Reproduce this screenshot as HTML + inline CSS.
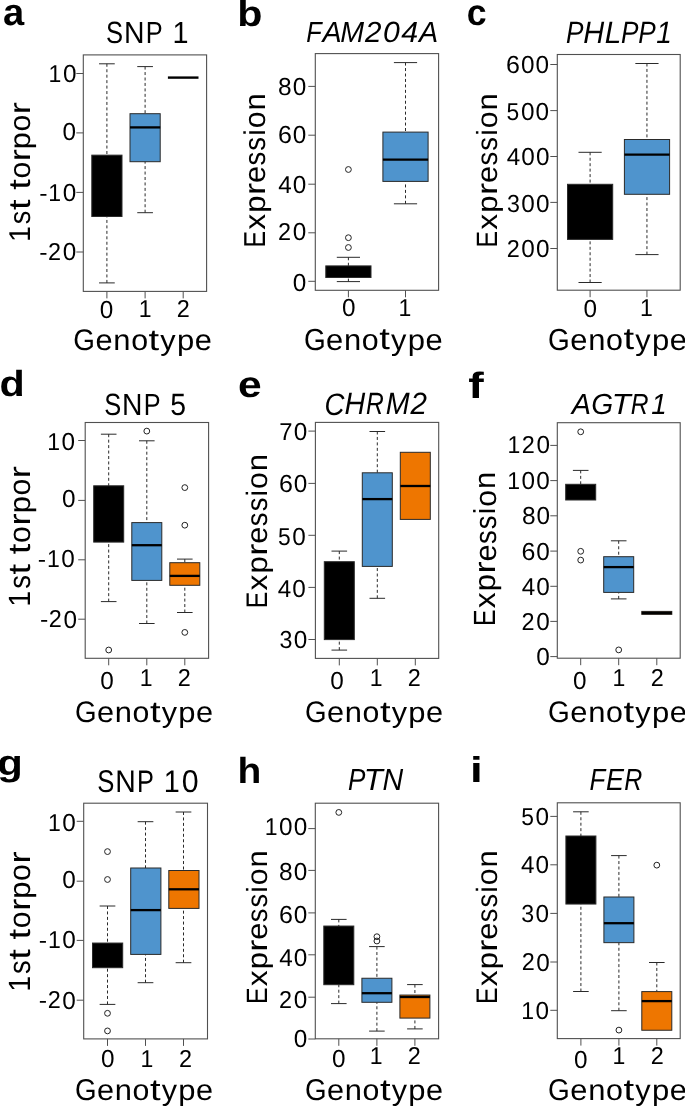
<!DOCTYPE html>
<html><head><meta charset="utf-8"><title>Genotype box plots</title><style>
html,body{margin:0;padding:0;background:#fff;overflow:hidden;}
svg{display:block;will-change:transform;}
text{font-family:"Liberation Sans",sans-serif;font-size:100px;fill:#000;}
</style></head><body>
<svg width="685" height="1107" viewBox="0 0 685 1107" text-rendering="geometricPrecision">
<rect width="685" height="1107" fill="#fff"/>
<line x1="76.30" y1="73.5" x2="83.3" y2="73.5" stroke="#505050" stroke-width="1"/>
<g><text transform="matrix(0.2308 0 0 0.2439 48.51 82.22)">1</text><text transform="matrix(0.2428 0 0 0.2458 62.89 82.30)">0</text></g>
<line x1="76.30" y1="132.9" x2="83.3" y2="132.9" stroke="#505050" stroke-width="1"/>
<g><text transform="matrix(0.2428 0 0 0.2458 62.44 139.70)">0</text></g>
<line x1="76.30" y1="192.4" x2="83.3" y2="192.4" stroke="#505050" stroke-width="1"/>
<g><text transform="matrix(0.2494 0 0 0.2300 39.26 200.62)">-</text><text transform="matrix(0.2308 0 0 0.2439 48.36 200.82)">1</text><text transform="matrix(0.2428 0 0 0.2458 62.74 200.90)">0</text></g>
<line x1="76.30" y1="252.0" x2="83.3" y2="252.0" stroke="#505050" stroke-width="1"/>
<g><text transform="matrix(0.2494 0 0 0.2300 39.26 259.87)">-</text><text transform="matrix(0.2340 0 0 0.2447 48.07 260.07)">2</text><text transform="matrix(0.2428 0 0 0.2458 62.74 260.15)">0</text></g>
<line x1="106.9" y1="291.4" x2="106.9" y2="298.40" stroke="#505050" stroke-width="1"/>
<line x1="145.1" y1="291.4" x2="145.1" y2="298.40" stroke="#505050" stroke-width="1"/>
<line x1="183.2" y1="291.4" x2="183.2" y2="298.40" stroke="#505050" stroke-width="1"/>
<g><text transform="matrix(0.2428 0 0 0.2458 99.73 317.76)">0</text></g>
<g><text transform="matrix(0.2308 0 0 0.2439 138.83 316.90)">1</text></g>
<g><text transform="matrix(0.2340 0 0 0.2447 176.81 316.90)">2</text></g>
<line x1="106.9" y1="63.80" x2="106.9" y2="155.15" stroke="#2a2a2a" stroke-width="1" stroke-dasharray="3,2.45"/>
<line x1="99.05" y1="63.80" x2="114.75" y2="63.80" stroke="#2a2a2a" stroke-width="1"/>
<line x1="106.9" y1="282.90" x2="106.9" y2="216.50" stroke="#2a2a2a" stroke-width="1" stroke-dasharray="3,2.45"/>
<line x1="99.05" y1="282.90" x2="114.75" y2="282.90" stroke="#2a2a2a" stroke-width="1"/>
<rect x="91.80" y="155.15" width="30.20" height="61.35" fill="#000" stroke="#2a2a2a" stroke-width="1"/>
<line x1="145.1" y1="66.60" x2="145.1" y2="113.70" stroke="#2a2a2a" stroke-width="1" stroke-dasharray="3,2.45"/>
<line x1="137.25" y1="66.60" x2="152.95" y2="66.60" stroke="#2a2a2a" stroke-width="1"/>
<line x1="145.1" y1="212.70" x2="145.1" y2="161.70" stroke="#2a2a2a" stroke-width="1" stroke-dasharray="3,2.45"/>
<line x1="137.25" y1="212.70" x2="152.95" y2="212.70" stroke="#2a2a2a" stroke-width="1"/>
<rect x="130.00" y="113.70" width="30.20" height="48.00" fill="#4F94CD" stroke="#2a2a2a" stroke-width="1"/>
<line x1="130.00" y1="127.40" x2="160.20" y2="127.40" stroke="#000" stroke-width="2.3"/>
<line x1="167.90" y1="77.6" x2="198.50" y2="77.6" stroke="#000" stroke-width="2.4"/>
<rect x="83.3" y="54.9" width="123.30" height="236.50" fill="none" stroke="#505050" stroke-width="1.1"/>
<g><text transform="matrix(0.3812 0 0 0.3781 2.96 25.12)" font-weight="bold">a</text></g>
<g><text transform="matrix(0.2563 0 0 0.3067 106.05 43.09)">S</text><text transform="matrix(0.2844 0 0 0.3044 124.01 43.00)">N</text><text transform="matrix(0.2541 0 0 0.3044 145.74 43.00)">P</text><text transform="matrix(0.2882 0 0 0.3044 172.47 43.00)">1</text></g>
<g transform="rotate(-90)"><text transform="matrix(0.2851 0 0 0.3010 -242.04 29.80)">1</text><text transform="matrix(0.2714 0 0 0.2976 -224.16 29.90)">s</text><text transform="matrix(0.3799 0 0 0.3043 -209.95 29.57)">t</text><text transform="matrix(0.3799 0 0 0.3043 -189.79 29.57)">t</text><text transform="matrix(0.3018 0 0 0.2976 -178.57 29.90)">o</text><text transform="matrix(0.3636 0 0 0.2958 -161.34 29.80)">r</text><text transform="matrix(0.3087 0 0 0.2926 -149.21 29.63)">p</text><text transform="matrix(0.3018 0 0 0.2976 -131.48 29.90)">o</text><text transform="matrix(0.3636 0 0 0.2958 -114.24 29.80)">r</text></g>
<g><text transform="matrix(0.2787 0 0 0.2981 73.31 350.29)">G</text><text transform="matrix(0.3080 0 0 0.2924 95.48 350.30)">e</text><text transform="matrix(0.3095 0 0 0.2906 113.30 350.20)">n</text><text transform="matrix(0.3033 0 0 0.2924 131.16 350.30)">o</text><text transform="matrix(0.3818 0 0 0.2990 148.54 349.97)">t</text><text transform="matrix(0.3068 0 0 0.2865 160.32 350.05)">y</text><text transform="matrix(0.3102 0 0 0.2876 177.02 350.03)">p</text><text transform="matrix(0.3080 0 0 0.2924 194.82 350.30)">e</text></g>
<line x1="308.30" y1="86.4" x2="315.3" y2="86.4" stroke="#505050" stroke-width="1"/>
<g><text transform="matrix(0.2447 0 0 0.2458 278.08 95.30)">8</text><text transform="matrix(0.2428 0 0 0.2458 292.74 95.30)">0</text></g>
<line x1="308.30" y1="135.2" x2="315.3" y2="135.2" stroke="#505050" stroke-width="1"/>
<g><text transform="matrix(0.2501 0 0 0.2458 277.92 142.70)">6</text><text transform="matrix(0.2428 0 0 0.2458 292.74 142.70)">0</text></g>
<line x1="308.30" y1="184.2" x2="315.3" y2="184.2" stroke="#505050" stroke-width="1"/>
<g><text transform="matrix(0.2418 0 0 0.2439 278.14 192.82)">4</text><text transform="matrix(0.2428 0 0 0.2458 292.74 192.90)">0</text></g>
<line x1="308.30" y1="232.8" x2="315.3" y2="232.8" stroke="#505050" stroke-width="1"/>
<g><text transform="matrix(0.2340 0 0 0.2447 278.07 240.12)">2</text><text transform="matrix(0.2428 0 0 0.2458 292.74 240.20)">0</text></g>
<line x1="308.30" y1="281.3" x2="315.3" y2="281.3" stroke="#505050" stroke-width="1"/>
<g><text transform="matrix(0.2428 0 0 0.2458 292.74 291.20)">0</text></g>
<line x1="348.4" y1="290.3" x2="348.4" y2="297.30" stroke="#505050" stroke-width="1"/>
<line x1="405.5" y1="290.3" x2="405.5" y2="297.30" stroke="#505050" stroke-width="1"/>
<g><text transform="matrix(0.2428 0 0 0.2458 342.08 316.36)">0</text></g>
<g><text transform="matrix(0.2308 0 0 0.2439 398.48 316.10)">1</text></g>
<line x1="348.4" y1="257.30" x2="348.4" y2="265.90" stroke="#2a2a2a" stroke-width="1" stroke-dasharray="3,2.45"/>
<line x1="336.80" y1="257.30" x2="360.00" y2="257.30" stroke="#2a2a2a" stroke-width="1"/>
<line x1="348.4" y1="281.60" x2="348.4" y2="277.50" stroke="#2a2a2a" stroke-width="1" stroke-dasharray="3,2.45"/>
<line x1="336.80" y1="281.60" x2="360.00" y2="281.60" stroke="#2a2a2a" stroke-width="1"/>
<rect x="325.80" y="265.90" width="45.20" height="11.60" fill="#000" stroke="#2a2a2a" stroke-width="1"/>
<circle cx="348.4" cy="169.50" r="2.9" fill="none" stroke="#222" stroke-width="1"/>
<circle cx="348.4" cy="237.70" r="2.9" fill="none" stroke="#222" stroke-width="1"/>
<circle cx="348.4" cy="247.50" r="2.9" fill="none" stroke="#222" stroke-width="1"/>
<line x1="405.5" y1="62.60" x2="405.5" y2="132.10" stroke="#2a2a2a" stroke-width="1" stroke-dasharray="3,2.45"/>
<line x1="393.90" y1="62.60" x2="417.10" y2="62.60" stroke="#2a2a2a" stroke-width="1"/>
<line x1="405.5" y1="203.80" x2="405.5" y2="181.40" stroke="#2a2a2a" stroke-width="1" stroke-dasharray="3,2.45"/>
<line x1="393.90" y1="203.80" x2="417.10" y2="203.80" stroke="#2a2a2a" stroke-width="1"/>
<rect x="382.90" y="132.10" width="45.20" height="49.30" fill="#4F94CD" stroke="#2a2a2a" stroke-width="1"/>
<line x1="382.90" y1="159.70" x2="428.10" y2="159.70" stroke="#000" stroke-width="2.3"/>
<rect x="315.3" y="53.6" width="123.30" height="236.70" fill="none" stroke="#505050" stroke-width="1.1"/>
<g><text transform="matrix(0.4119 0 0 0.3619 237.32 26.24)" font-weight="bold">b</text></g>
<g><text transform="matrix(0.2534 0 0 0.2903 306.24 41.72)" font-style="italic">F</text><text transform="matrix(0.2874 0 0 0.2903 322.43 41.72)" font-style="italic">A</text><text transform="matrix(0.2863 0 0 0.2903 340.24 41.72)" font-style="italic">M</text><text transform="matrix(0.2956 0 0 0.2913 365.09 41.72)" font-style="italic">2</text><text transform="matrix(0.3014 0 0 0.2926 383.04 41.81)" font-style="italic">0</text><text transform="matrix(0.3046 0 0 0.2903 401.25 41.72)" font-style="italic">4</text><text transform="matrix(0.2874 0 0 0.2903 418.90 41.72)" font-style="italic">A</text></g>
<g transform="rotate(-90)"><text transform="matrix(0.2479 0 0 0.3029 -247.55 265.16)">E</text><text transform="matrix(0.3193 0 0 0.2962 -229.79 265.16)">x</text><text transform="matrix(0.3110 0 0 0.2945 -212.71 264.99)">p</text><text transform="matrix(0.3663 0 0 0.2976 -194.99 265.16)">r</text><text transform="matrix(0.3087 0 0 0.2995 -183.10 265.26)">e</text><text transform="matrix(0.2734 0 0 0.2995 -165.59 265.26)">s</text><text transform="matrix(0.2734 0 0 0.2995 -150.68 265.26)">s</text><text transform="matrix(0.2943 0 0 0.2994 -135.86 265.16)">i</text><text transform="matrix(0.3040 0 0 0.2995 -128.34 265.26)">o</text><text transform="matrix(0.3102 0 0 0.2976 -110.60 265.16)">n</text></g>
<g><text transform="matrix(0.2791 0 0 0.3048 303.90 349.76)">G</text><text transform="matrix(0.3084 0 0 0.2991 326.12 349.77)">e</text><text transform="matrix(0.3099 0 0 0.2972 343.95 349.67)">n</text><text transform="matrix(0.3037 0 0 0.2991 361.84 349.77)">o</text><text transform="matrix(0.3823 0 0 0.3057 379.25 349.44)">t</text><text transform="matrix(0.3073 0 0 0.2930 391.05 349.52)">y</text><text transform="matrix(0.3107 0 0 0.2941 407.77 349.50)">p</text><text transform="matrix(0.3084 0 0 0.2991 425.59 349.77)">e</text></g>
<line x1="550.30" y1="64.5" x2="557.3" y2="64.5" stroke="#505050" stroke-width="1"/>
<g><text transform="matrix(0.2501 0 0 0.2458 506.08 72.75)">6</text><text transform="matrix(0.2428 0 0 0.2458 520.90 72.75)">0</text><text transform="matrix(0.2428 0 0 0.2458 535.54 72.75)">0</text></g>
<line x1="550.30" y1="110.6" x2="557.3" y2="110.6" stroke="#505050" stroke-width="1"/>
<g><text transform="matrix(0.2285 0 0 0.2450 506.58 119.70)">5</text><text transform="matrix(0.2428 0 0 0.2458 520.90 119.70)">0</text><text transform="matrix(0.2428 0 0 0.2458 535.54 119.70)">0</text></g>
<line x1="550.30" y1="156.5" x2="557.3" y2="156.5" stroke="#505050" stroke-width="1"/>
<g><text transform="matrix(0.2418 0 0 0.2439 506.71 165.12)">4</text><text transform="matrix(0.2428 0 0 0.2458 521.30 165.20)">0</text><text transform="matrix(0.2428 0 0 0.2458 535.94 165.20)">0</text></g>
<line x1="550.30" y1="202.4" x2="557.3" y2="202.4" stroke="#505050" stroke-width="1"/>
<g><text transform="matrix(0.2324 0 0 0.2458 507.00 212.10)">3</text><text transform="matrix(0.2428 0 0 0.2458 521.30 212.10)">0</text><text transform="matrix(0.2428 0 0 0.2458 535.94 212.10)">0</text></g>
<line x1="550.30" y1="248.5" x2="557.3" y2="248.5" stroke="#505050" stroke-width="1"/>
<g><text transform="matrix(0.2340 0 0 0.2447 506.63 256.72)">2</text><text transform="matrix(0.2428 0 0 0.2458 521.30 256.80)">0</text><text transform="matrix(0.2428 0 0 0.2458 535.94 256.80)">0</text></g>
<line x1="590.1" y1="290.2" x2="590.1" y2="297.20" stroke="#505050" stroke-width="1"/>
<line x1="646.95" y1="290.2" x2="646.95" y2="297.20" stroke="#505050" stroke-width="1"/>
<g><text transform="matrix(0.2428 0 0 0.2458 583.48 316.96)">0</text></g>
<g><text transform="matrix(0.2308 0 0 0.2439 640.03 316.10)">1</text></g>
<line x1="590.1" y1="152.30" x2="590.1" y2="184.30" stroke="#2a2a2a" stroke-width="1" stroke-dasharray="3,2.45"/>
<line x1="578.50" y1="152.30" x2="601.70" y2="152.30" stroke="#2a2a2a" stroke-width="1"/>
<line x1="590.1" y1="282.50" x2="590.1" y2="239.40" stroke="#2a2a2a" stroke-width="1" stroke-dasharray="3,2.45"/>
<line x1="578.50" y1="282.50" x2="601.70" y2="282.50" stroke="#2a2a2a" stroke-width="1"/>
<rect x="567.50" y="184.30" width="45.20" height="55.10" fill="#000" stroke="#2a2a2a" stroke-width="1"/>
<line x1="646.95" y1="63.50" x2="646.95" y2="139.50" stroke="#2a2a2a" stroke-width="1" stroke-dasharray="3,2.45"/>
<line x1="635.35" y1="63.50" x2="658.55" y2="63.50" stroke="#2a2a2a" stroke-width="1"/>
<line x1="646.95" y1="254.60" x2="646.95" y2="194.30" stroke="#2a2a2a" stroke-width="1" stroke-dasharray="3,2.45"/>
<line x1="635.35" y1="254.60" x2="658.55" y2="254.60" stroke="#2a2a2a" stroke-width="1"/>
<rect x="624.40" y="139.50" width="45.20" height="54.80" fill="#4F94CD" stroke="#2a2a2a" stroke-width="1"/>
<line x1="624.40" y1="154.70" x2="669.60" y2="154.70" stroke="#000" stroke-width="2.3"/>
<rect x="557.3" y="54.5" width="122.90" height="235.70" fill="none" stroke="#505050" stroke-width="1.1"/>
<g><text transform="matrix(0.3569 0 0 0.3671 466.87 25.13)" font-weight="bold">c</text></g>
<g><text transform="matrix(0.2619 0 0 0.3098 565.91 42.70)" font-style="italic">P</text><text transform="matrix(0.2897 0 0 0.3098 583.17 42.70)" font-style="italic">H</text><text transform="matrix(0.2969 0 0 0.3098 604.76 42.70)" font-style="italic">L</text><text transform="matrix(0.2619 0 0 0.3098 620.88 42.70)" font-style="italic">P</text><text transform="matrix(0.2619 0 0 0.3098 638.21 42.70)" font-style="italic">P</text><text transform="matrix(0.2801 0 0 0.3098 656.27 42.70)" font-style="italic">1</text></g>
<g transform="rotate(-90)"><text transform="matrix(0.2479 0 0 0.2941 -247.55 496.83)">E</text><text transform="matrix(0.3193 0 0 0.2876 -229.79 496.83)">x</text><text transform="matrix(0.3110 0 0 0.2859 -212.71 496.67)">p</text><text transform="matrix(0.3663 0 0 0.2890 -194.99 496.83)">r</text><text transform="matrix(0.3087 0 0 0.2908 -183.10 496.93)">e</text><text transform="matrix(0.2734 0 0 0.2908 -165.59 496.93)">s</text><text transform="matrix(0.2734 0 0 0.2908 -150.68 496.93)">s</text><text transform="matrix(0.2943 0 0 0.2908 -135.86 496.83)">i</text><text transform="matrix(0.3040 0 0 0.2908 -128.34 496.93)">o</text><text transform="matrix(0.3102 0 0 0.2890 -110.60 496.83)">n</text></g>
<g><text transform="matrix(0.2791 0 0 0.3048 548.10 349.76)">G</text><text transform="matrix(0.3084 0 0 0.2991 570.32 349.77)">e</text><text transform="matrix(0.3099 0 0 0.2972 588.15 349.67)">n</text><text transform="matrix(0.3037 0 0 0.2991 606.04 349.77)">o</text><text transform="matrix(0.3823 0 0 0.3057 623.45 349.44)">t</text><text transform="matrix(0.3073 0 0 0.2930 635.25 349.52)">y</text><text transform="matrix(0.3107 0 0 0.2941 651.97 349.50)">p</text><text transform="matrix(0.3084 0 0 0.2991 669.79 349.77)">e</text></g>
<line x1="78.20" y1="440.5" x2="85.2" y2="440.5" stroke="#505050" stroke-width="1"/>
<g><text transform="matrix(0.2308 0 0 0.2439 47.16 449.52)">1</text><text transform="matrix(0.2428 0 0 0.2458 61.54 449.60)">0</text></g>
<line x1="78.20" y1="500.4" x2="85.2" y2="500.4" stroke="#505050" stroke-width="1"/>
<g><text transform="matrix(0.2428 0 0 0.2458 61.89 507.30)">0</text></g>
<line x1="78.20" y1="559.8" x2="85.2" y2="559.8" stroke="#505050" stroke-width="1"/>
<g><text transform="matrix(0.2494 0 0 0.2300 37.86 566.61)">-</text><text transform="matrix(0.2308 0 0 0.2439 46.96 566.82)">1</text><text transform="matrix(0.2428 0 0 0.2458 61.34 566.90)">0</text></g>
<line x1="78.20" y1="619.2" x2="85.2" y2="619.2" stroke="#505050" stroke-width="1"/>
<g><text transform="matrix(0.2494 0 0 0.2300 40.06 627.26)">-</text><text transform="matrix(0.2340 0 0 0.2447 48.87 627.47)">2</text><text transform="matrix(0.2428 0 0 0.2458 63.54 627.55)">0</text></g>
<line x1="108.7" y1="658.3" x2="108.7" y2="665.30" stroke="#505050" stroke-width="1"/>
<line x1="146.8" y1="658.3" x2="146.8" y2="665.30" stroke="#505050" stroke-width="1"/>
<line x1="184.8" y1="658.3" x2="184.8" y2="665.30" stroke="#505050" stroke-width="1"/>
<g><text transform="matrix(0.2428 0 0 0.2458 100.18 688.76)">0</text></g>
<g><text transform="matrix(0.2308 0 0 0.2439 139.63 686.10)">1</text></g>
<g><text transform="matrix(0.2340 0 0 0.2447 177.76 686.10)">2</text></g>
<line x1="108.7" y1="434.20" x2="108.7" y2="485.80" stroke="#2a2a2a" stroke-width="1" stroke-dasharray="3,2.45"/>
<line x1="100.90" y1="434.20" x2="116.50" y2="434.20" stroke="#2a2a2a" stroke-width="1"/>
<line x1="108.7" y1="601.60" x2="108.7" y2="542.10" stroke="#2a2a2a" stroke-width="1" stroke-dasharray="3,2.45"/>
<line x1="100.90" y1="601.60" x2="116.50" y2="601.60" stroke="#2a2a2a" stroke-width="1"/>
<rect x="93.70" y="485.80" width="30.00" height="56.30" fill="#000" stroke="#2a2a2a" stroke-width="1"/>
<circle cx="108.7" cy="650.00" r="2.9" fill="none" stroke="#222" stroke-width="1"/>
<line x1="146.8" y1="440.80" x2="146.8" y2="522.60" stroke="#2a2a2a" stroke-width="1" stroke-dasharray="3,2.45"/>
<line x1="139.00" y1="440.80" x2="154.60" y2="440.80" stroke="#2a2a2a" stroke-width="1"/>
<line x1="146.8" y1="623.50" x2="146.8" y2="580.40" stroke="#2a2a2a" stroke-width="1" stroke-dasharray="3,2.45"/>
<line x1="139.00" y1="623.50" x2="154.60" y2="623.50" stroke="#2a2a2a" stroke-width="1"/>
<rect x="131.80" y="522.60" width="30.00" height="57.80" fill="#4F94CD" stroke="#2a2a2a" stroke-width="1"/>
<line x1="131.80" y1="545.20" x2="161.80" y2="545.20" stroke="#000" stroke-width="2.3"/>
<circle cx="146.8" cy="431.10" r="2.9" fill="none" stroke="#222" stroke-width="1"/>
<line x1="184.8" y1="559.10" x2="184.8" y2="562.70" stroke="#2a2a2a" stroke-width="1" stroke-dasharray="3,2.45"/>
<line x1="177.00" y1="559.10" x2="192.60" y2="559.10" stroke="#2a2a2a" stroke-width="1"/>
<line x1="184.8" y1="612.50" x2="184.8" y2="585.30" stroke="#2a2a2a" stroke-width="1" stroke-dasharray="3,2.45"/>
<line x1="177.00" y1="612.50" x2="192.60" y2="612.50" stroke="#2a2a2a" stroke-width="1"/>
<rect x="169.80" y="562.70" width="30.00" height="22.60" fill="#EE7600" stroke="#2a2a2a" stroke-width="1"/>
<line x1="169.80" y1="575.90" x2="199.80" y2="575.90" stroke="#000" stroke-width="2.3"/>
<circle cx="184.8" cy="487.60" r="2.9" fill="none" stroke="#222" stroke-width="1"/>
<circle cx="184.8" cy="525.20" r="2.9" fill="none" stroke="#222" stroke-width="1"/>
<circle cx="184.8" cy="632.40" r="2.9" fill="none" stroke="#222" stroke-width="1"/>
<rect x="85.2" y="422.5" width="123.40" height="235.80" fill="none" stroke="#505050" stroke-width="1.1"/>
<g><text transform="matrix(0.4129 0 0 0.3633 -0.60 396.44)" font-weight="bold">d</text></g>
<g><text transform="matrix(0.2548 0 0 0.3081 104.15 414.99)">S</text><text transform="matrix(0.2828 0 0 0.3058 122.01 414.90)">N</text><text transform="matrix(0.2527 0 0 0.3058 143.63 414.90)">P</text><text transform="matrix(0.2838 0 0 0.3072 170.28 414.99)">5</text></g>
<g transform="rotate(-90)"><text transform="matrix(0.2871 0 0 0.3078 -606.85 30.06)">1</text><text transform="matrix(0.2734 0 0 0.3043 -588.85 30.16)">s</text><text transform="matrix(0.3826 0 0 0.3111 -574.54 29.83)">t</text><text transform="matrix(0.3826 0 0 0.3111 -554.22 29.83)">t</text><text transform="matrix(0.3040 0 0 0.3043 -542.92 30.16)">o</text><text transform="matrix(0.3663 0 0 0.3024 -525.56 30.06)">r</text><text transform="matrix(0.3109 0 0 0.2993 -513.35 29.89)">p</text><text transform="matrix(0.3040 0 0 0.3043 -495.48 30.16)">o</text><text transform="matrix(0.3663 0 0 0.3024 -478.13 30.06)">r</text></g>
<g><text transform="matrix(0.2778 0 0 0.2969 74.96 722.21)">G</text><text transform="matrix(0.3069 0 0 0.2913 97.07 722.22)">e</text><text transform="matrix(0.3084 0 0 0.2895 114.82 722.12)">n</text><text transform="matrix(0.3023 0 0 0.2913 132.62 722.22)">o</text><text transform="matrix(0.3805 0 0 0.2978 149.95 721.90)">t</text><text transform="matrix(0.3058 0 0 0.2855 161.69 721.98)">y</text><text transform="matrix(0.3092 0 0 0.2865 178.33 721.96)">p</text><text transform="matrix(0.3069 0 0 0.2913 196.07 722.22)">e</text></g>
<line x1="308.40" y1="431.1" x2="315.4" y2="431.1" stroke="#505050" stroke-width="1"/>
<g><text transform="matrix(0.2384 0 0 0.2439 279.19 440.17)">7</text><text transform="matrix(0.2428 0 0 0.2458 293.74 440.25)">0</text></g>
<line x1="308.40" y1="483.4" x2="315.4" y2="483.4" stroke="#505050" stroke-width="1"/>
<g><text transform="matrix(0.2501 0 0 0.2458 278.92 491.75)">6</text><text transform="matrix(0.2428 0 0 0.2458 293.74 491.75)">0</text></g>
<line x1="308.40" y1="535.3" x2="315.4" y2="535.3" stroke="#505050" stroke-width="1"/>
<g><text transform="matrix(0.2285 0 0 0.2450 278.01 544.50)">5</text><text transform="matrix(0.2428 0 0 0.2458 292.34 544.50)">0</text></g>
<line x1="308.40" y1="587.4" x2="315.4" y2="587.4" stroke="#505050" stroke-width="1"/>
<g><text transform="matrix(0.2418 0 0 0.2439 277.74 597.02)">4</text><text transform="matrix(0.2428 0 0 0.2458 292.34 597.10)">0</text></g>
<line x1="308.40" y1="639.5" x2="315.4" y2="639.5" stroke="#505050" stroke-width="1"/>
<g><text transform="matrix(0.2324 0 0 0.2458 279.43 648.15)">3</text><text transform="matrix(0.2428 0 0 0.2458 293.74 648.15)">0</text></g>
<line x1="339.3" y1="658.4" x2="339.3" y2="665.40" stroke="#505050" stroke-width="1"/>
<line x1="377.3" y1="658.4" x2="377.3" y2="665.40" stroke="#505050" stroke-width="1"/>
<line x1="415.3" y1="658.4" x2="415.3" y2="665.40" stroke="#505050" stroke-width="1"/>
<g><text transform="matrix(0.2428 0 0 0.2458 330.18 688.76)">0</text></g>
<g><text transform="matrix(0.2308 0 0 0.2439 369.78 686.10)">1</text></g>
<g><text transform="matrix(0.2340 0 0 0.2447 407.76 686.10)">2</text></g>
<line x1="339.3" y1="551.10" x2="339.3" y2="561.70" stroke="#2a2a2a" stroke-width="1" stroke-dasharray="3,2.45"/>
<line x1="331.50" y1="551.10" x2="347.10" y2="551.10" stroke="#2a2a2a" stroke-width="1"/>
<line x1="339.3" y1="650.10" x2="339.3" y2="639.60" stroke="#2a2a2a" stroke-width="1" stroke-dasharray="3,2.45"/>
<line x1="331.50" y1="650.10" x2="347.10" y2="650.10" stroke="#2a2a2a" stroke-width="1"/>
<rect x="324.30" y="561.70" width="30.00" height="77.90" fill="#000" stroke="#2a2a2a" stroke-width="1"/>
<line x1="377.3" y1="431.50" x2="377.3" y2="472.80" stroke="#2a2a2a" stroke-width="1" stroke-dasharray="3,2.45"/>
<line x1="369.50" y1="431.50" x2="385.10" y2="431.50" stroke="#2a2a2a" stroke-width="1"/>
<line x1="377.3" y1="598.30" x2="377.3" y2="566.40" stroke="#2a2a2a" stroke-width="1" stroke-dasharray="3,2.45"/>
<line x1="369.50" y1="598.30" x2="385.10" y2="598.30" stroke="#2a2a2a" stroke-width="1"/>
<rect x="362.30" y="472.80" width="30.00" height="93.60" fill="#4F94CD" stroke="#2a2a2a" stroke-width="1"/>
<line x1="362.30" y1="499.10" x2="392.30" y2="499.10" stroke="#000" stroke-width="2.3"/>
<rect x="400.30" y="452.30" width="30.00" height="67.10" fill="#EE7600" stroke="#2a2a2a" stroke-width="1"/>
<line x1="400.30" y1="486.00" x2="430.30" y2="486.00" stroke="#000" stroke-width="2.3"/>
<rect x="315.4" y="422.4" width="123.30" height="236.00" fill="none" stroke="#505050" stroke-width="1.1"/>
<g><text transform="matrix(0.4249 0 0 0.3653 237.90 396.63)" font-weight="bold">e</text></g>
<g><text transform="matrix(0.2762 0 0 0.3095 324.38 414.59)" font-style="italic">C</text><text transform="matrix(0.2867 0 0 0.3072 344.48 414.49)" font-style="italic">H</text><text transform="matrix(0.2460 0 0 0.3072 365.99 414.49)" font-style="italic">R</text><text transform="matrix(0.2868 0 0 0.3072 385.63 414.49)" font-style="italic">M</text><text transform="matrix(0.2962 0 0 0.3082 410.53 414.49)" font-style="italic">2</text></g>
<g transform="rotate(-90)"><text transform="matrix(0.2480 0 0 0.2980 -608.25 266.76)">E</text><text transform="matrix(0.3194 0 0 0.2914 -590.49 266.76)">x</text><text transform="matrix(0.3111 0 0 0.2897 -573.40 266.59)">p</text><text transform="matrix(0.3664 0 0 0.2928 -555.68 266.76)">r</text><text transform="matrix(0.3088 0 0 0.2946 -543.78 266.85)">e</text><text transform="matrix(0.2735 0 0 0.2946 -526.26 266.85)">s</text><text transform="matrix(0.2735 0 0 0.2946 -511.35 266.85)">s</text><text transform="matrix(0.2944 0 0 0.2946 -496.53 266.76)">i</text><text transform="matrix(0.3041 0 0 0.2946 -489.00 266.85)">o</text><text transform="matrix(0.3103 0 0 0.2928 -471.25 266.76)">n</text></g>
<g><text transform="matrix(0.2778 0 0 0.2969 304.96 722.21)">G</text><text transform="matrix(0.3069 0 0 0.2913 327.07 722.22)">e</text><text transform="matrix(0.3084 0 0 0.2895 344.82 722.12)">n</text><text transform="matrix(0.3023 0 0 0.2913 362.62 722.22)">o</text><text transform="matrix(0.3805 0 0 0.2978 379.95 721.90)">t</text><text transform="matrix(0.3058 0 0 0.2855 391.69 721.98)">y</text><text transform="matrix(0.3092 0 0 0.2865 408.33 721.96)">p</text><text transform="matrix(0.3069 0 0 0.2913 426.07 722.22)">e</text></g>
<line x1="550.30" y1="445.4" x2="557.3" y2="445.4" stroke="#505050" stroke-width="1"/>
<g><text transform="matrix(0.2308 0 0 0.2439 507.52 453.21)">1</text><text transform="matrix(0.2340 0 0 0.2447 521.87 453.21)">2</text><text transform="matrix(0.2428 0 0 0.2458 536.54 453.29)">0</text></g>
<line x1="550.30" y1="480.6" x2="557.3" y2="480.6" stroke="#505050" stroke-width="1"/>
<g><text transform="matrix(0.2308 0 0 0.2439 507.22 488.97)">1</text><text transform="matrix(0.2428 0 0 0.2458 521.60 489.05)">0</text><text transform="matrix(0.2428 0 0 0.2458 536.24 489.05)">0</text></g>
<line x1="550.30" y1="515.8" x2="557.3" y2="515.8" stroke="#505050" stroke-width="1"/>
<g><text transform="matrix(0.2447 0 0 0.2458 521.88 524.10)">8</text><text transform="matrix(0.2428 0 0 0.2458 536.54 524.10)">0</text></g>
<line x1="550.30" y1="551.1" x2="557.3" y2="551.1" stroke="#505050" stroke-width="1"/>
<g><text transform="matrix(0.2501 0 0 0.2458 521.42 559.65)">6</text><text transform="matrix(0.2428 0 0 0.2458 536.24 559.65)">0</text></g>
<line x1="550.30" y1="586.3" x2="557.3" y2="586.3" stroke="#505050" stroke-width="1"/>
<g><text transform="matrix(0.2418 0 0 0.2439 521.64 595.27)">4</text><text transform="matrix(0.2428 0 0 0.2458 536.24 595.35)">0</text></g>
<line x1="550.30" y1="621.4" x2="557.3" y2="621.4" stroke="#505050" stroke-width="1"/>
<g><text transform="matrix(0.2340 0 0 0.2447 521.57 630.27)">2</text><text transform="matrix(0.2428 0 0 0.2458 536.24 630.35)">0</text></g>
<line x1="550.30" y1="656.6" x2="557.3" y2="656.6" stroke="#505050" stroke-width="1"/>
<g><text transform="matrix(0.2428 0 0 0.2458 536.19 665.40)">0</text></g>
<line x1="580.7" y1="658.2" x2="580.7" y2="665.20" stroke="#505050" stroke-width="1"/>
<line x1="618.7" y1="658.2" x2="618.7" y2="665.20" stroke="#505050" stroke-width="1"/>
<line x1="656.8" y1="658.2" x2="656.8" y2="665.20" stroke="#505050" stroke-width="1"/>
<g><text transform="matrix(0.2428 0 0 0.2458 572.93 688.76)">0</text></g>
<g><text transform="matrix(0.2308 0 0 0.2439 612.53 686.10)">1</text></g>
<g><text transform="matrix(0.2340 0 0 0.2447 650.86 686.10)">2</text></g>
<line x1="580.7" y1="470.40" x2="580.7" y2="484.30" stroke="#2a2a2a" stroke-width="1" stroke-dasharray="3,2.45"/>
<line x1="572.90" y1="470.40" x2="588.50" y2="470.40" stroke="#2a2a2a" stroke-width="1"/>
<rect x="565.70" y="484.30" width="30.00" height="15.70" fill="#000" stroke="#2a2a2a" stroke-width="1"/>
<circle cx="580.7" cy="431.80" r="2.9" fill="none" stroke="#222" stroke-width="1"/>
<circle cx="580.7" cy="551.30" r="2.9" fill="none" stroke="#222" stroke-width="1"/>
<circle cx="580.7" cy="560.10" r="2.9" fill="none" stroke="#222" stroke-width="1"/>
<line x1="618.7" y1="540.80" x2="618.7" y2="556.70" stroke="#2a2a2a" stroke-width="1" stroke-dasharray="3,2.45"/>
<line x1="610.90" y1="540.80" x2="626.50" y2="540.80" stroke="#2a2a2a" stroke-width="1"/>
<line x1="618.7" y1="598.90" x2="618.7" y2="592.40" stroke="#2a2a2a" stroke-width="1" stroke-dasharray="3,2.45"/>
<line x1="610.90" y1="598.90" x2="626.50" y2="598.90" stroke="#2a2a2a" stroke-width="1"/>
<rect x="603.70" y="556.70" width="30.00" height="35.70" fill="#4F94CD" stroke="#2a2a2a" stroke-width="1"/>
<line x1="603.70" y1="567.10" x2="633.70" y2="567.10" stroke="#000" stroke-width="2.3"/>
<circle cx="618.7" cy="649.90" r="2.9" fill="none" stroke="#222" stroke-width="1"/>
<rect x="641.80" y="611.40" width="30.00" height="3.00" fill="#EE7600" stroke="#2a2a2a" stroke-width="1"/>
<line x1="641.80" y1="612.90" x2="671.80" y2="612.90" stroke="#000" stroke-width="2.3"/>
<rect x="557.3" y="422.7" width="122.90" height="235.50" fill="none" stroke="#505050" stroke-width="1.1"/>
<g><text transform="matrix(0.4646 0 0 0.3669 468.24 397.70)" font-weight="bold">f</text></g>
<g><text transform="matrix(0.2881 0 0 0.2889 571.77 414.12)" font-style="italic">A</text><text transform="matrix(0.2825 0 0 0.2912 591.25 414.21)" font-style="italic">G</text><text transform="matrix(0.3106 0 0 0.2889 611.86 414.12)" font-style="italic">T</text><text transform="matrix(0.2462 0 0 0.2889 630.85 414.12)" font-style="italic">R</text><text transform="matrix(0.2773 0 0 0.2889 651.30 414.12)" font-style="italic">1</text></g>
<g transform="rotate(-90)"><text transform="matrix(0.2477 0 0 0.3062 -625.94 495.39)">E</text><text transform="matrix(0.3191 0 0 0.2994 -608.20 495.39)">x</text><text transform="matrix(0.3107 0 0 0.2977 -591.13 495.22)">p</text><text transform="matrix(0.3660 0 0 0.3008 -573.43 495.39)">r</text><text transform="matrix(0.3085 0 0 0.3027 -561.54 495.50)">e</text><text transform="matrix(0.2732 0 0 0.3027 -544.04 495.50)">s</text><text transform="matrix(0.2732 0 0 0.3027 -529.15 495.50)">s</text><text transform="matrix(0.2941 0 0 0.3027 -514.34 495.39)">i</text><text transform="matrix(0.3038 0 0 0.3027 -506.81 495.50)">o</text><text transform="matrix(0.3100 0 0 0.3008 -489.09 495.39)">n</text></g>
<g><text transform="matrix(0.2791 0 0 0.2969 548.10 722.21)">G</text><text transform="matrix(0.3084 0 0 0.2913 570.32 722.22)">e</text><text transform="matrix(0.3099 0 0 0.2895 588.15 722.12)">n</text><text transform="matrix(0.3037 0 0 0.2913 606.04 722.22)">o</text><text transform="matrix(0.3823 0 0 0.2978 623.45 721.90)">t</text><text transform="matrix(0.3073 0 0 0.2855 635.25 721.98)">y</text><text transform="matrix(0.3107 0 0 0.2865 651.97 721.96)">p</text><text transform="matrix(0.3084 0 0 0.2913 669.79 722.22)">e</text></g>
<line x1="76.70" y1="821.3" x2="83.7" y2="821.3" stroke="#505050" stroke-width="1"/>
<g><text transform="matrix(0.2308 0 0 0.2439 47.96 830.82)">1</text><text transform="matrix(0.2428 0 0 0.2458 62.34 830.90)">0</text></g>
<line x1="76.70" y1="881.2" x2="83.7" y2="881.2" stroke="#505050" stroke-width="1"/>
<g><text transform="matrix(0.2428 0 0 0.2458 62.34 888.25)">0</text></g>
<line x1="76.70" y1="940.4" x2="83.7" y2="940.4" stroke="#505050" stroke-width="1"/>
<g><text transform="matrix(0.2494 0 0 0.2300 38.86 947.61)">-</text><text transform="matrix(0.2308 0 0 0.2439 47.96 947.82)">1</text><text transform="matrix(0.2428 0 0 0.2458 62.34 947.90)">0</text></g>
<line x1="76.70" y1="1000.2" x2="83.7" y2="1000.2" stroke="#505050" stroke-width="1"/>
<g><text transform="matrix(0.2494 0 0 0.2300 38.86 1008.26)">-</text><text transform="matrix(0.2340 0 0 0.2447 47.67 1008.47)">2</text><text transform="matrix(0.2428 0 0 0.2458 62.34 1008.55)">0</text></g>
<line x1="107.5" y1="1038.9" x2="107.5" y2="1045.90" stroke="#505050" stroke-width="1"/>
<line x1="145.5" y1="1038.9" x2="145.5" y2="1045.90" stroke="#505050" stroke-width="1"/>
<line x1="183.5" y1="1038.9" x2="183.5" y2="1045.90" stroke="#505050" stroke-width="1"/>
<g><text transform="matrix(0.2428 0 0 0.2458 101.03 1067.36)">0</text></g>
<g><text transform="matrix(0.2308 0 0 0.2439 140.58 1067.20)">1</text></g>
<g><text transform="matrix(0.2340 0 0 0.2447 178.96 1067.20)">2</text></g>
<line x1="107.5" y1="906.00" x2="107.5" y2="943.05" stroke="#2a2a2a" stroke-width="1" stroke-dasharray="3,2.45"/>
<line x1="99.65" y1="906.00" x2="115.35" y2="906.00" stroke="#2a2a2a" stroke-width="1"/>
<line x1="107.5" y1="1004.40" x2="107.5" y2="967.70" stroke="#2a2a2a" stroke-width="1" stroke-dasharray="3,2.45"/>
<line x1="99.65" y1="1004.40" x2="115.35" y2="1004.40" stroke="#2a2a2a" stroke-width="1"/>
<rect x="92.50" y="943.05" width="30.20" height="24.65" fill="#000" stroke="#2a2a2a" stroke-width="1"/>
<circle cx="107.5" cy="851.60" r="2.9" fill="none" stroke="#222" stroke-width="1"/>
<circle cx="107.5" cy="879.50" r="2.9" fill="none" stroke="#222" stroke-width="1"/>
<circle cx="107.5" cy="1013.30" r="2.9" fill="none" stroke="#222" stroke-width="1"/>
<circle cx="107.5" cy="1030.90" r="2.9" fill="none" stroke="#222" stroke-width="1"/>
<line x1="145.5" y1="821.70" x2="145.5" y2="868.00" stroke="#2a2a2a" stroke-width="1" stroke-dasharray="3,2.45"/>
<line x1="137.65" y1="821.70" x2="153.35" y2="821.70" stroke="#2a2a2a" stroke-width="1"/>
<line x1="145.5" y1="982.70" x2="145.5" y2="954.40" stroke="#2a2a2a" stroke-width="1" stroke-dasharray="3,2.45"/>
<line x1="137.65" y1="982.70" x2="153.35" y2="982.70" stroke="#2a2a2a" stroke-width="1"/>
<rect x="130.70" y="868.00" width="30.20" height="86.40" fill="#4F94CD" stroke="#2a2a2a" stroke-width="1"/>
<line x1="130.70" y1="910.10" x2="160.90" y2="910.10" stroke="#000" stroke-width="2.3"/>
<line x1="183.5" y1="812.00" x2="183.5" y2="870.50" stroke="#2a2a2a" stroke-width="1" stroke-dasharray="3,2.45"/>
<line x1="175.65" y1="812.00" x2="191.35" y2="812.00" stroke="#2a2a2a" stroke-width="1"/>
<line x1="183.5" y1="962.70" x2="183.5" y2="908.40" stroke="#2a2a2a" stroke-width="1" stroke-dasharray="3,2.45"/>
<line x1="175.65" y1="962.70" x2="191.35" y2="962.70" stroke="#2a2a2a" stroke-width="1"/>
<rect x="168.80" y="870.50" width="30.20" height="37.90" fill="#EE7600" stroke="#2a2a2a" stroke-width="1"/>
<line x1="168.80" y1="889.30" x2="199.00" y2="889.30" stroke="#000" stroke-width="2.3"/>
<rect x="83.7" y="803.2" width="123.80" height="235.70" fill="none" stroke="#505050" stroke-width="1.1"/>
<g><text transform="matrix(0.4178 0 0 0.3587 -2.67 774.78)" font-weight="bold">g</text></g>
<g><text transform="matrix(0.2565 0 0 0.3138 97.25 791.89)">S</text><text transform="matrix(0.2846 0 0 0.3114 115.22 791.79)">N</text><text transform="matrix(0.2543 0 0 0.3114 136.97 791.79)">P</text><text transform="matrix(0.2885 0 0 0.3114 163.72 791.79)">1</text><text transform="matrix(0.3034 0 0 0.3138 181.70 791.89)">0</text></g>
<g transform="rotate(-90)"><text transform="matrix(0.2861 0 0 0.3078 -991.85 30.06)">1</text><text transform="matrix(0.2724 0 0 0.3043 -973.91 30.16)">s</text><text transform="matrix(0.3813 0 0 0.3111 -959.65 29.83)">t</text><text transform="matrix(0.3813 0 0 0.3111 -939.40 29.83)">t</text><text transform="matrix(0.3029 0 0 0.3043 -928.14 30.16)">o</text><text transform="matrix(0.3649 0 0 0.3024 -910.85 30.06)">r</text><text transform="matrix(0.3098 0 0 0.2993 -898.68 29.89)">p</text><text transform="matrix(0.3029 0 0 0.3043 -880.88 30.16)">o</text><text transform="matrix(0.3649 0 0 0.3024 -863.59 30.06)">r</text></g>
<g><text transform="matrix(0.2778 0 0 0.3003 74.96 1099.85)">G</text><text transform="matrix(0.3069 0 0 0.2947 97.07 1099.85)">e</text><text transform="matrix(0.3084 0 0 0.2928 114.82 1099.75)">n</text><text transform="matrix(0.3023 0 0 0.2947 132.62 1099.85)">o</text><text transform="matrix(0.3805 0 0 0.3012 149.95 1099.53)">t</text><text transform="matrix(0.3058 0 0 0.2887 161.69 1099.61)">y</text><text transform="matrix(0.3092 0 0 0.2897 178.33 1099.59)">p</text><text transform="matrix(0.3069 0 0 0.2947 196.07 1099.85)">e</text></g>
<line x1="308.30" y1="828.6" x2="315.3" y2="828.6" stroke="#505050" stroke-width="1"/>
<g><text transform="matrix(0.2308 0 0 0.2439 264.72 834.82)">1</text><text transform="matrix(0.2428 0 0 0.2458 279.10 834.90)">0</text><text transform="matrix(0.2428 0 0 0.2458 293.74 834.90)">0</text></g>
<line x1="308.30" y1="870.4" x2="315.3" y2="870.4" stroke="#505050" stroke-width="1"/>
<g><text transform="matrix(0.2447 0 0 0.2458 279.08 879.85)">8</text><text transform="matrix(0.2428 0 0 0.2458 293.74 879.85)">0</text></g>
<line x1="308.30" y1="912.9" x2="315.3" y2="912.9" stroke="#505050" stroke-width="1"/>
<g><text transform="matrix(0.2501 0 0 0.2458 278.92 922.80)">6</text><text transform="matrix(0.2428 0 0 0.2458 293.74 922.80)">0</text></g>
<line x1="308.30" y1="954.8" x2="315.3" y2="954.8" stroke="#505050" stroke-width="1"/>
<g><text transform="matrix(0.2418 0 0 0.2439 279.14 965.67)">4</text><text transform="matrix(0.2428 0 0 0.2458 293.74 965.75)">0</text></g>
<line x1="308.30" y1="997.2" x2="315.3" y2="997.2" stroke="#505050" stroke-width="1"/>
<g><text transform="matrix(0.2340 0 0 0.2447 279.07 1007.92)">2</text><text transform="matrix(0.2428 0 0 0.2458 293.74 1008.00)">0</text></g>
<line x1="308.30" y1="1039.0" x2="315.3" y2="1039.0" stroke="#505050" stroke-width="1"/>
<g><text transform="matrix(0.2428 0 0 0.2458 293.74 1047.10)">0</text></g>
<line x1="338.8" y1="1038.8" x2="338.8" y2="1045.80" stroke="#505050" stroke-width="1"/>
<line x1="376.9" y1="1038.8" x2="376.9" y2="1045.80" stroke="#505050" stroke-width="1"/>
<line x1="414.9" y1="1038.8" x2="414.9" y2="1045.80" stroke="#505050" stroke-width="1"/>
<g><text transform="matrix(0.2428 0 0 0.2458 332.03 1067.36)">0</text></g>
<g><text transform="matrix(0.2308 0 0 0.2439 369.78 1064.40)">1</text></g>
<g><text transform="matrix(0.2340 0 0 0.2447 407.76 1064.40)">2</text></g>
<line x1="338.8" y1="919.40" x2="338.8" y2="926.05" stroke="#2a2a2a" stroke-width="1" stroke-dasharray="3,2.45"/>
<line x1="331.00" y1="919.40" x2="346.60" y2="919.40" stroke="#2a2a2a" stroke-width="1"/>
<line x1="338.8" y1="1003.60" x2="338.8" y2="984.70" stroke="#2a2a2a" stroke-width="1" stroke-dasharray="3,2.45"/>
<line x1="331.00" y1="1003.60" x2="346.60" y2="1003.60" stroke="#2a2a2a" stroke-width="1"/>
<rect x="323.80" y="926.05" width="30.00" height="58.65" fill="#000" stroke="#2a2a2a" stroke-width="1"/>
<circle cx="338.8" cy="812.40" r="2.9" fill="none" stroke="#222" stroke-width="1"/>
<line x1="376.9" y1="946.60" x2="376.9" y2="978.25" stroke="#2a2a2a" stroke-width="1" stroke-dasharray="3,2.45"/>
<line x1="369.10" y1="946.60" x2="384.70" y2="946.60" stroke="#2a2a2a" stroke-width="1"/>
<line x1="376.9" y1="1031.10" x2="376.9" y2="1002.30" stroke="#2a2a2a" stroke-width="1" stroke-dasharray="3,2.45"/>
<line x1="369.10" y1="1031.10" x2="384.70" y2="1031.10" stroke="#2a2a2a" stroke-width="1"/>
<rect x="361.90" y="978.25" width="30.00" height="24.05" fill="#4F94CD" stroke="#2a2a2a" stroke-width="1"/>
<line x1="361.90" y1="993.20" x2="391.90" y2="993.20" stroke="#000" stroke-width="2.3"/>
<circle cx="376.9" cy="936.70" r="2.9" fill="none" stroke="#222" stroke-width="1"/>
<circle cx="376.9" cy="941.00" r="2.9" fill="none" stroke="#222" stroke-width="1"/>
<line x1="414.9" y1="984.60" x2="414.9" y2="995.05" stroke="#2a2a2a" stroke-width="1" stroke-dasharray="3,2.45"/>
<line x1="407.10" y1="984.60" x2="422.70" y2="984.60" stroke="#2a2a2a" stroke-width="1"/>
<line x1="414.9" y1="1028.90" x2="414.9" y2="1018.10" stroke="#2a2a2a" stroke-width="1" stroke-dasharray="3,2.45"/>
<line x1="407.10" y1="1028.90" x2="422.70" y2="1028.90" stroke="#2a2a2a" stroke-width="1"/>
<rect x="399.90" y="995.05" width="30.00" height="23.05" fill="#EE7600" stroke="#2a2a2a" stroke-width="1"/>
<line x1="399.90" y1="997.00" x2="429.90" y2="997.00" stroke="#000" stroke-width="2.3"/>
<rect x="315.3" y="803.2" width="123.30" height="235.60" fill="none" stroke="#505050" stroke-width="1.1"/>
<g><text transform="matrix(0.3896 0 0 0.3614 237.47 783.20)" font-weight="bold">h</text></g>
<g><text transform="matrix(0.2603 0 0 0.3055 348.02 790.10)" font-style="italic">P</text><text transform="matrix(0.3118 0 0 0.3055 363.68 790.10)" font-style="italic">T</text><text transform="matrix(0.2863 0 0 0.3055 382.62 790.10)" font-style="italic">N</text></g>
<g transform="rotate(-90)"><text transform="matrix(0.2473 0 0 0.2941 -1004.04 266.83)">E</text><text transform="matrix(0.3184 0 0 0.2876 -986.34 266.83)">x</text><text transform="matrix(0.3101 0 0 0.2859 -969.29 266.67)">p</text><text transform="matrix(0.3653 0 0 0.2890 -951.63 266.83)">r</text><text transform="matrix(0.3079 0 0 0.2908 -939.76 266.93)">e</text><text transform="matrix(0.2727 0 0 0.2908 -922.30 266.93)">s</text><text transform="matrix(0.2727 0 0 0.2908 -907.43 266.93)">s</text><text transform="matrix(0.2935 0 0 0.2908 -892.66 266.83)">i</text><text transform="matrix(0.3032 0 0 0.2908 -885.15 266.93)">o</text><text transform="matrix(0.3094 0 0 0.2890 -867.46 266.83)">n</text></g>
<g><text transform="matrix(0.2778 0 0 0.3003 304.96 1099.85)">G</text><text transform="matrix(0.3069 0 0 0.2947 327.07 1099.85)">e</text><text transform="matrix(0.3084 0 0 0.2928 344.82 1099.75)">n</text><text transform="matrix(0.3023 0 0 0.2947 362.62 1099.85)">o</text><text transform="matrix(0.3805 0 0 0.3012 379.95 1099.53)">t</text><text transform="matrix(0.3058 0 0 0.2887 391.69 1099.61)">y</text><text transform="matrix(0.3092 0 0 0.2897 408.33 1099.59)">p</text><text transform="matrix(0.3069 0 0 0.2947 426.07 1099.85)">e</text></g>
<line x1="550.30" y1="816.4" x2="557.3" y2="816.4" stroke="#505050" stroke-width="1"/>
<g><text transform="matrix(0.2285 0 0 0.2450 521.21 825.00)">5</text><text transform="matrix(0.2428 0 0 0.2458 535.54 825.00)">0</text></g>
<line x1="550.30" y1="864.8" x2="557.3" y2="864.8" stroke="#505050" stroke-width="1"/>
<g><text transform="matrix(0.2418 0 0 0.2439 520.94 873.22)">4</text><text transform="matrix(0.2428 0 0 0.2458 535.54 873.30)">0</text></g>
<line x1="550.30" y1="913.4" x2="557.3" y2="913.4" stroke="#505050" stroke-width="1"/>
<g><text transform="matrix(0.2324 0 0 0.2458 521.23 922.00)">3</text><text transform="matrix(0.2428 0 0 0.2458 535.54 922.00)">0</text></g>
<line x1="550.30" y1="962.0" x2="557.3" y2="962.0" stroke="#505050" stroke-width="1"/>
<g><text transform="matrix(0.2340 0 0 0.2447 521.67 970.47)">2</text><text transform="matrix(0.2428 0 0 0.2458 536.34 970.55)">0</text></g>
<line x1="550.30" y1="1010.3" x2="557.3" y2="1010.3" stroke="#505050" stroke-width="1"/>
<g><text transform="matrix(0.2308 0 0 0.2439 521.16 1018.62)">1</text><text transform="matrix(0.2428 0 0 0.2458 535.54 1018.70)">0</text></g>
<line x1="580.9" y1="1038.6" x2="580.9" y2="1045.60" stroke="#505050" stroke-width="1"/>
<line x1="618.9" y1="1038.6" x2="618.9" y2="1045.60" stroke="#505050" stroke-width="1"/>
<line x1="656.8" y1="1038.6" x2="656.8" y2="1045.60" stroke="#505050" stroke-width="1"/>
<g><text transform="matrix(0.2428 0 0 0.2458 574.08 1067.66)">0</text></g>
<g><text transform="matrix(0.2308 0 0 0.2439 612.53 1063.50)">1</text></g>
<g><text transform="matrix(0.2340 0 0 0.2447 650.86 1063.50)">2</text></g>
<line x1="580.9" y1="811.80" x2="580.9" y2="836.00" stroke="#2a2a2a" stroke-width="1" stroke-dasharray="3,2.45"/>
<line x1="573.10" y1="811.80" x2="588.70" y2="811.80" stroke="#2a2a2a" stroke-width="1"/>
<line x1="580.9" y1="991.50" x2="580.9" y2="904.05" stroke="#2a2a2a" stroke-width="1" stroke-dasharray="3,2.45"/>
<line x1="573.10" y1="991.50" x2="588.70" y2="991.50" stroke="#2a2a2a" stroke-width="1"/>
<rect x="565.90" y="836.00" width="30.00" height="68.05" fill="#000" stroke="#2a2a2a" stroke-width="1"/>
<line x1="618.9" y1="855.60" x2="618.9" y2="897.00" stroke="#2a2a2a" stroke-width="1" stroke-dasharray="3,2.45"/>
<line x1="611.10" y1="855.60" x2="626.70" y2="855.60" stroke="#2a2a2a" stroke-width="1"/>
<line x1="618.9" y1="1010.70" x2="618.9" y2="942.65" stroke="#2a2a2a" stroke-width="1" stroke-dasharray="3,2.45"/>
<line x1="611.10" y1="1010.70" x2="626.70" y2="1010.70" stroke="#2a2a2a" stroke-width="1"/>
<rect x="603.90" y="897.00" width="30.00" height="45.65" fill="#4F94CD" stroke="#2a2a2a" stroke-width="1"/>
<line x1="603.90" y1="923.20" x2="633.90" y2="923.20" stroke="#000" stroke-width="2.3"/>
<circle cx="618.9" cy="1030.10" r="2.9" fill="none" stroke="#222" stroke-width="1"/>
<line x1="656.8" y1="962.50" x2="656.8" y2="991.60" stroke="#2a2a2a" stroke-width="1" stroke-dasharray="3,2.45"/>
<line x1="649.00" y1="962.50" x2="664.60" y2="962.50" stroke="#2a2a2a" stroke-width="1"/>
<rect x="641.80" y="991.60" width="30.00" height="38.65" fill="#EE7600" stroke="#2a2a2a" stroke-width="1"/>
<line x1="641.80" y1="1001.10" x2="671.80" y2="1001.10" stroke="#000" stroke-width="2.3"/>
<circle cx="656.8" cy="865.15" r="2.9" fill="none" stroke="#222" stroke-width="1"/>
<rect x="557.3" y="802.8" width="122.90" height="235.80" fill="none" stroke="#505050" stroke-width="1.1"/>
<g><text transform="matrix(0.4582 0 0 0.3586 470.09 782.00)" font-weight="bold">i</text></g>
<g><text transform="matrix(0.2577 0 0 0.3055 589.43 790.10)" font-style="italic">F</text><text transform="matrix(0.2700 0 0 0.3055 606.00 790.10)" font-style="italic">E</text><text transform="matrix(0.2497 0 0 0.3055 624.31 790.10)" font-style="italic">R</text></g>
<g transform="rotate(-90)"><text transform="matrix(0.2473 0 0 0.2974 -1004.04 497.07)">E</text><text transform="matrix(0.3184 0 0 0.2908 -986.34 497.07)">x</text><text transform="matrix(0.3101 0 0 0.2891 -969.29 496.90)">p</text><text transform="matrix(0.3653 0 0 0.2922 -951.63 497.07)">r</text><text transform="matrix(0.3079 0 0 0.2941 -939.76 497.16)">e</text><text transform="matrix(0.2727 0 0 0.2941 -922.30 497.16)">s</text><text transform="matrix(0.2727 0 0 0.2941 -907.43 497.16)">s</text><text transform="matrix(0.2935 0 0 0.2940 -892.66 497.07)">i</text><text transform="matrix(0.3032 0 0 0.2941 -885.15 497.16)">o</text><text transform="matrix(0.3094 0 0 0.2922 -867.46 497.07)">n</text></g>
<g><text transform="matrix(0.2791 0 0 0.3003 548.10 1099.85)">G</text><text transform="matrix(0.3084 0 0 0.2947 570.32 1099.85)">e</text><text transform="matrix(0.3099 0 0 0.2928 588.15 1099.75)">n</text><text transform="matrix(0.3037 0 0 0.2947 606.04 1099.85)">o</text><text transform="matrix(0.3823 0 0 0.3012 623.45 1099.53)">t</text><text transform="matrix(0.3073 0 0 0.2887 635.25 1099.61)">y</text><text transform="matrix(0.3107 0 0 0.2897 651.97 1099.59)">p</text><text transform="matrix(0.3084 0 0 0.2947 669.79 1099.85)">e</text></g>
</svg></body></html>
